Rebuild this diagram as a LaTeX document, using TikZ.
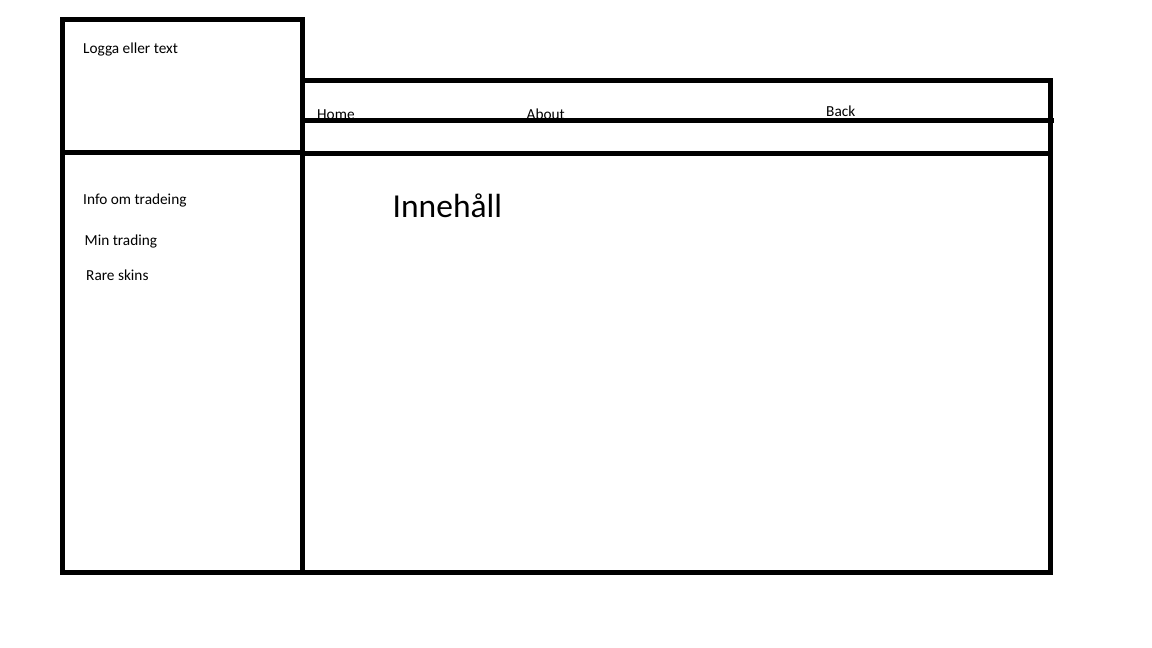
\documentclass[tikz,border=0pt]{standalone}
\usepackage{fontspec}
\setmainfont{Carlito}
\begin{document}
\begin{tikzpicture}[x=1pt,y=-1pt,
  frame/.style={draw=black,line width=5pt},
  lbl/.style={anchor=base west,inner sep=0pt,font=\fontsize{15.3}{18}\selectfont},
  big/.style={anchor=base west,inner sep=0pt,font=\fontsize{33.5}{40}\selectfont}]
\useasboundingbox (0,0) rectangle (1152,648);
\draw[frame] (62.5,19.5) rectangle (302,152.5);
\draw[frame] (62.5,152.5) rectangle (302,572.3);
\draw[frame] (302,80.5) rectangle (1050.5,153.5);
\draw[frame] (302,153.5) rectangle (1050.5,572.3);
\node[lbl] (logo) at (83,53) {Logga eller text};
\node[lbl] (home) at (317,119) {Home};
\node[lbl] (about) at (526.5,119) {About};
\node[lbl] (back) at (826,116) {Back};
\node[lbl] (info) at (83,204) {Info om tradeing};
\node[lbl] (min) at (84.5,245) {Min trading};
\node[lbl] (rare) at (86,280) {Rare skins};
\node[big] (inn) at (392.5,217) {Innehåll};
\coordinate (ml) at (302,120.3);
\coordinate (mr) at (1054,120.3);
\draw[frame] (ml) -- (mr);
\end{tikzpicture}
\end{document}
